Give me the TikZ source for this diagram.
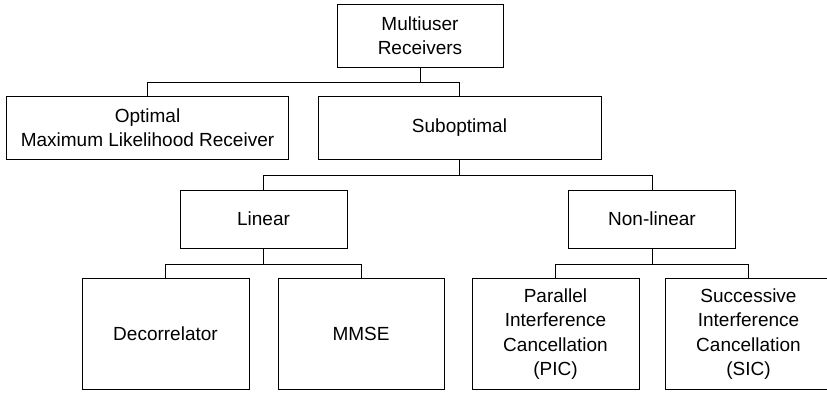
\documentclass[tikz,border=0pt]{standalone}
\usepackage{fontspec}
\setmainfont{Liberation Sans}
\begin{document}
\begin{tikzpicture}[x=1pt,y=-1pt,
  box/.style={draw=black,line width=0.9pt,fill=white,align=center,inner sep=0pt,
    font=\fontsize{19}{23.5}\selectfont},
  conn/.style={draw=black,line width=0.9pt}]
\useasboundingbox (0,0) rectangle (827,393);
\node[box,minimum width=166,minimum height=63] (mu) at (420,35.5) {Multiuser\\Receivers};
\node[box,minimum width=282,minimum height=63] (opt) at (147.5,127.5) {Optimal\\Maximum Likelihood Receiver};
\node[box,minimum width=283,minimum height=63] (sub) at (459.5,127.5) {Suboptimal};
\node[box,minimum width=167,minimum height=58] (lin) at (263.5,219) {Linear};
\node[box,minimum width=167,minimum height=58] (non) at (652,219) {Non-linear};
\node[box,minimum width=167,minimum height=111] (dec) at (165.5,334) {Decorrelator};
\node[box,minimum width=166,minimum height=111] (mmse) at (361,334) {MMSE};
\node[box,minimum width=167,minimum height=111,font=\fontsize{19}{24.5}\selectfont] (pic) at (555.5,334) {Parallel\\Interference\\Cancellation\\(PIC)};
\node[box,minimum width=167,minimum height=111,font=\fontsize{19}{24.5}\selectfont] (sic) at (748.5,334) {Successive\\Interference\\Cancellation\\(SIC)};
\coordinate (j1) at (0,82);
\coordinate (j2) at (0,175);
\coordinate (j3) at (0,264);
\draw[conn] (mu.south) -- (mu.south |- j1) -| (opt.north);
\draw[conn] (mu.south |- j1) -| (sub.north);
\draw[conn] (sub.south) -- (sub.south |- j2) -| (lin.north);
\draw[conn] (sub.south |- j2) -| (non.north);
\draw[conn] (lin.south) -- (lin.south |- j3) -| (dec.north);
\draw[conn] (lin.south |- j3) -| (mmse.north);
\draw[conn] (non.south) -- (non.south |- j3) -| (pic.north);
\draw[conn] (non.south |- j3) -| (sic.north);
\end{tikzpicture}
\end{document}
